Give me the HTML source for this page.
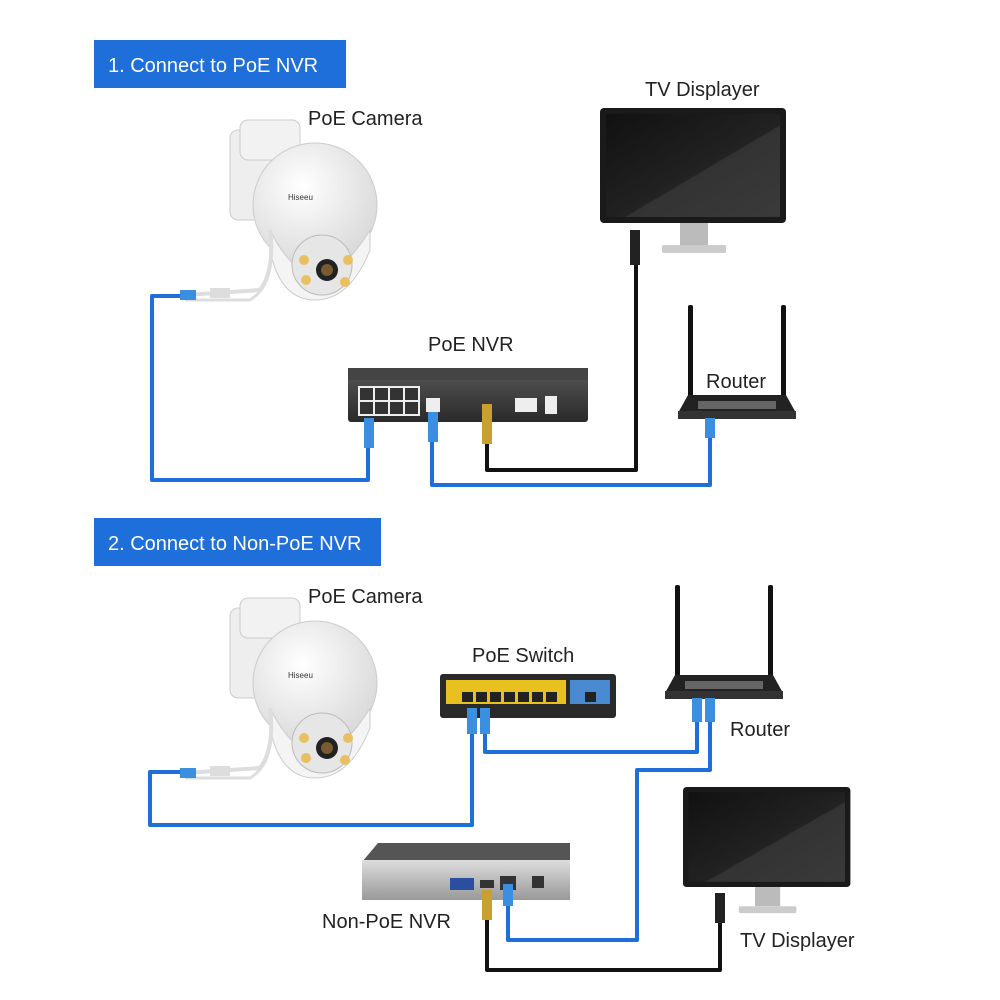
<!DOCTYPE html>
<html><head><meta charset="utf-8"><style>
html,body{margin:0;padding:0;background:#fff;}
svg{display:block;font-family:"Liberation Sans",sans-serif;}
</style></head><body>
<svg width="1000" height="1000" viewBox="0 0 1000 1000" xmlns="http://www.w3.org/2000/svg">
<defs>
<linearGradient id="scr" x1="0" y1="0" x2="1" y2="1"><stop offset="0" stop-color="#111"/><stop offset="0.55" stop-color="#222"/><stop offset="0.56" stop-color="#333"/><stop offset="1" stop-color="#3a3a3a"/></linearGradient>
<linearGradient id="nvr" x1="0" y1="0" x2="0" y2="1"><stop offset="0" stop-color="#555"/><stop offset="1" stop-color="#2a2a2a"/></linearGradient>
<linearGradient id="silver" x1="0" y1="0" x2="0" y2="1"><stop offset="0" stop-color="#ddd"/><stop offset="1" stop-color="#999"/></linearGradient>
<radialGradient id="dome" cx="0.4" cy="0.35" r="0.7"><stop offset="0" stop-color="#fff"/><stop offset="1" stop-color="#d8d8d8"/></radialGradient>
<g id="cam">
 <rect x="0" y="10" width="50" height="90" rx="8" fill="#eee" stroke="#ccc"/>
 <rect x="10" y="0" width="60" height="40" rx="8" fill="#f2f2f2" stroke="#ccc"/>
 <circle cx="85" cy="85" r="62" fill="url(#dome)" stroke="#ccc"/>
 <path d="M40 110 Q85 200 140 110 L140 130 Q120 180 85 180 Q50 180 40 130Z" fill="#f4f4f4" stroke="#ccc"/>
 <circle cx="92" cy="145" r="30" fill="#e6e6e6" stroke="#bbb"/>
 <circle cx="97" cy="150" r="11" fill="#222"/><circle cx="97" cy="150" r="6" fill="#7a5a30"/>
 <circle cx="74" cy="140" r="5" fill="#e8c060"/><circle cx="118" cy="140" r="5" fill="#e8c060"/>
 <circle cx="76" cy="160" r="5" fill="#e8c060"/><circle cx="115" cy="162" r="5" fill="#e8c060"/>
 <text x="58" y="80" font-size="8" fill="#333">Hiseeu</text>
 <path d="M40 110 Q45 150 30 170 L-45 175" stroke="#ddd" stroke-width="4" fill="none"/>
 <path d="M40 120 Q45 165 20 180 L-45 180" stroke="#ddd" stroke-width="3" fill="none"/>
 <rect x="-20" y="168" width="20" height="10" fill="#ddd"/>
 <rect x="-50" y="170" width="16" height="10" fill="#3b8fe0"/>
</g>
<g id="tv">
 <rect x="0" y="0" width="186" height="115" rx="4" fill="#1a1a1a"/>
 <rect x="6" y="6" width="174" height="103" fill="url(#scr)"/>
 <rect x="80" y="115" width="28" height="22" fill="#bbb"/>
 <rect x="62" y="137" width="64" height="8" rx="2" fill="#ccc"/>
</g>
<g id="router">
 <rect x="10" y="0" width="5" height="92" rx="2" fill="#111"/>
 <rect x="103" y="0" width="5" height="92" rx="2" fill="#111"/>
 <path d="M0 108 L10 90 L108 90 L118 108Z" fill="#222"/>
 <rect x="20" y="96" width="78" height="8" fill="#666"/>
 <rect x="0" y="106" width="118" height="8" fill="#333"/>
</g>
</defs>

<!-- Section 1 -->
<rect x="94" y="40" width="252" height="48" fill="#1e6fd9"/>
<text x="108" y="72" font-size="20" fill="#fff">1. Connect to PoE NVR</text>
<text x="308" y="125" font-size="20" fill="#222">PoE Camera</text>
<text x="645" y="96" font-size="20" fill="#222">TV Displayer</text>
<text x="428" y="351" font-size="20" fill="#222">PoE NVR</text>
<text x="706" y="388" font-size="20" fill="#222">Router</text>

<g fill="none" stroke-width="4" stroke-linejoin="round">
 <path d="M185 296 L152 296 L152 480 L368 480 L368 420" stroke="#1e6fd9"/>
 <path d="M432 420 L432 485 L710 485 L710 425" stroke="#1e6fd9"/>
 <path d="M487 440 L487 470 L636 470 L636 260" stroke="#111"/>
</g>
<use href="#cam" x="230" y="120"/>
<use href="#tv" x="600" y="108"/>
<rect x="630" y="230" width="10" height="35" fill="#222"/>
<rect x="348" y="370" width="240" height="52" rx="3" fill="url(#nvr)"/>
<rect x="348" y="368" width="240" height="12" fill="#444"/>
<g fill="#eee"><rect x="358" y="386" width="62" height="30"/><rect x="426" y="398" width="14" height="14"/><rect x="515" y="398" width="22" height="14"/><rect x="545" y="396" width="12" height="18"/></g>
<g fill="#333"><rect x="360" y="388" width="13" height="12"/><rect x="375" y="388" width="13" height="12"/><rect x="390" y="388" width="13" height="12"/><rect x="405" y="388" width="13" height="12"/><rect x="360" y="402" width="13" height="12"/><rect x="375" y="402" width="13" height="12"/><rect x="390" y="402" width="13" height="12"/><rect x="405" y="402" width="13" height="12"/></g>
<rect x="364" y="418" width="10" height="30" fill="#3b8fe0"/>
<rect x="428" y="412" width="10" height="30" fill="#3b8fe0"/>
<rect x="482" y="404" width="10" height="40" fill="#c9a030"/>
<use href="#router" x="678" y="305"/>
<rect x="705" y="418" width="10" height="20" fill="#3b8fe0"/>

<!-- Section 2 -->
<rect x="94" y="518" width="287" height="48" fill="#1e6fd9"/>
<text x="108" y="550" font-size="20" fill="#fff">2. Connect to Non-PoE NVR</text>
<text x="308" y="603" font-size="20" fill="#222">PoE Camera</text>
<text x="472" y="662" font-size="20" fill="#222">PoE Switch</text>
<text x="730" y="736" font-size="20" fill="#222">Router</text>
<text x="322" y="928" font-size="20" fill="#222">Non-PoE NVR</text>
<text x="740" y="947" font-size="20" fill="#222">TV Displayer</text>

<g fill="none" stroke-width="4" stroke-linejoin="round">
 <path d="M185 772 L150 772 L150 825 L472 825 L472 730" stroke="#1e6fd9"/>
 <path d="M485 730 L485 752 L697 752 L697 720" stroke="#1e6fd9"/>
 <path d="M710 720 L710 770 L637 770 L637 940 L508 940 L508 895" stroke="#1e6fd9"/>
 <path d="M487 915 L487 970 L720 970 L720 920" stroke="#111"/>
</g>
<use href="#cam" x="230" y="598"/>
<rect x="440" y="674" width="176" height="44" rx="3" fill="#2a2a2a"/>
<rect x="446" y="680" width="120" height="24" fill="#e8c020"/>
<rect x="570" y="680" width="40" height="24" fill="#4a8ad0"/>
<g fill="#222"><rect x="462" y="692" width="11" height="10"/><rect x="476" y="692" width="11" height="10"/><rect x="490" y="692" width="11" height="10"/><rect x="504" y="692" width="11" height="10"/><rect x="518" y="692" width="11" height="10"/><rect x="532" y="692" width="11" height="10"/><rect x="546" y="692" width="11" height="10"/><rect x="585" y="692" width="11" height="10"/></g>
<rect x="467" y="708" width="10" height="26" fill="#3b8fe0"/>
<rect x="480" y="708" width="10" height="26" fill="#3b8fe0"/>
<use href="#router" x="665" y="585"/>
<rect x="692" y="698" width="10" height="24" fill="#3b8fe0"/>
<rect x="705" y="698" width="10" height="24" fill="#3b8fe0"/>
<path d="M362 862 L378 843 L570 843 L570 862Z" fill="#555"/>
<rect x="362" y="860" width="208" height="40" fill="url(#silver)"/>
<rect x="450" y="878" width="24" height="12" fill="#2b4fa0"/>
<rect x="480" y="880" width="14" height="8" fill="#333"/>
<rect x="500" y="876" width="16" height="14" fill="#333"/>
<rect x="532" y="876" width="12" height="12" fill="#333"/>
<rect x="503" y="884" width="10" height="22" fill="#3b8fe0"/>
<rect x="482" y="890" width="10" height="30" fill="#c9a030"/>
<use href="#tv" x="683" y="787" transform="translate(683 787) scale(0.9 0.87) translate(-683 -787)"/>
<rect x="715" y="893" width="10" height="30" fill="#222"/>
</svg>
</body></html>
